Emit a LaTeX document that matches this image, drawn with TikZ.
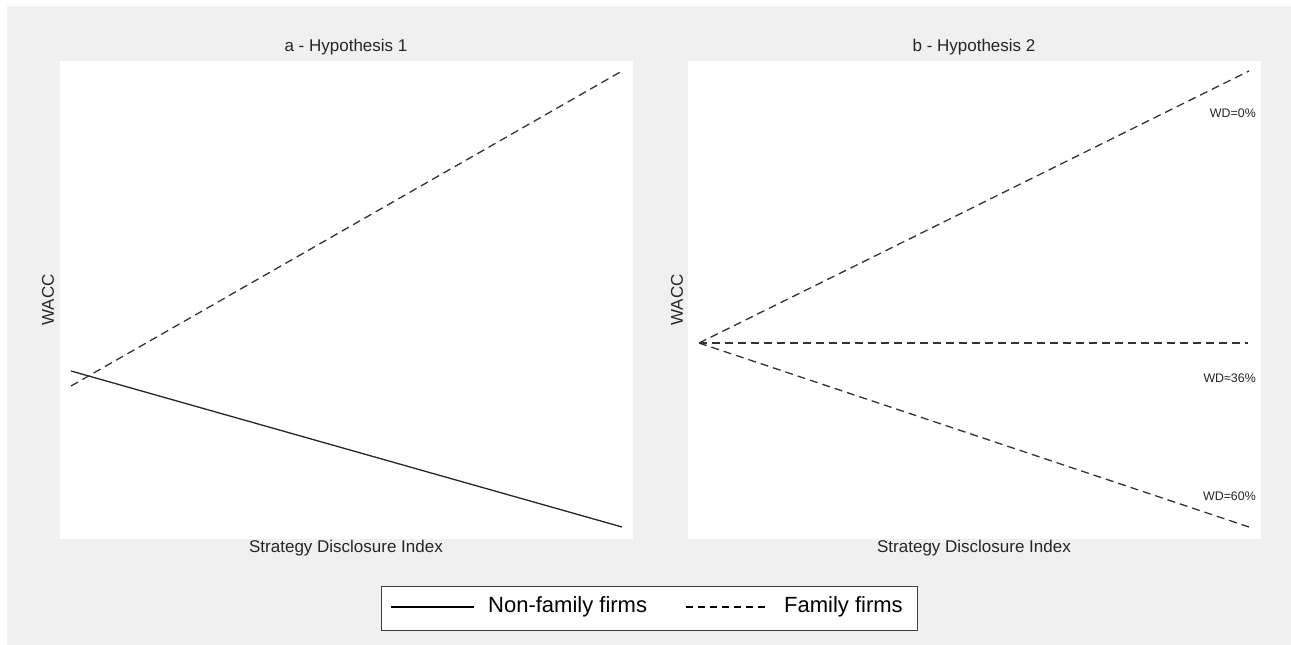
\documentclass[tikz,border=0pt]{standalone}
\usepackage{fontspec}
\setmainfont{Liberation Sans}
\begin{document}
\begin{tikzpicture}[x=1pt,y=-1pt,
  plotarea/.style={fill=white,draw=none},
  axlabel/.style={font=\fontsize{17}{19}\selectfont,text=black!85,inner sep=0pt},
  wdlabel/.style={font=\fontsize{12.4}{14}\selectfont,text=black!85,inner sep=0pt,anchor=east},
  solidline/.style={draw=black!85,line width=1.3pt},
  dashline/.style={draw=black!80,line width=1.3pt,dash pattern=on 8pt off 5pt},
  legtext/.style={font=\fontsize{22}{24}\selectfont,text=black,inner sep=0pt,anchor=west}]
\useasboundingbox (0,0) rectangle (1291,645);
\fill[white] (0,0) rectangle (1291,645);
\fill[black!6] (7,6) rectangle (1291,645);
% plot areas
\fill[plotarea] (60,61) rectangle (633,539);
\fill[plotarea] (688,61) rectangle (1261,539);
% titles
\node[axlabel] (ta) at (346,47) {a - Hypothesis 1};
\node[axlabel] (tb) at (974,47) {b - Hypothesis 2};
\node[axlabel] (xa) at (346,548) {Strategy Disclosure Index};
\node[axlabel] (xb) at (974,548) {Strategy Disclosure Index};
\node[axlabel,rotate=90] (ya) at (48,300) {WACC};
\node[axlabel,rotate=90] (yb) at (677,300) {WACC};
% panel a
\coordinate (a1) at (71,371);
\coordinate (a2) at (622,527);
\coordinate (a3) at (71,386);
\coordinate (a4) at (622,71);
\draw[solidline] (a1) -- (a2);
\draw[dashline] (a3) -- (a4);
% panel b
\coordinate (b0) at (699,343);
\coordinate (b1) at (1249,71);
\coordinate (b2) at (1248,343);
\coordinate (b3) at (1249,527);
\draw[dashline] (b0) -- (b1);
\draw[dashline] (b0) -- (b2);
\draw[dashline] (b0) -- (b3);
\node[wdlabel] (w0) at (1256,113) {WD=0\%};
\node[wdlabel] (w36) at (1256,378) {WD≈36\%};
\node[wdlabel] (w60) at (1256,496) {WD=60\%};
% legend
\node[draw=black!75,line width=1pt,fill=white,minimum width=536pt,minimum height=44pt,inner sep=0pt] (leg) at (649,608) {};
\coordinate (l1) at (391,607);
\coordinate (l2) at (474,607);
\coordinate (l3) at (686,607);
\coordinate (l4) at (768,607);
\draw[draw=black,line width=1.2pt] (l1) -- (l2);
\draw[draw=black,line width=1.2pt,dash pattern=on 7pt off 5pt] (l3) -- (l4);
\node[legtext] (n1) at (488,607) {Non-family firms};
\node[legtext] (n2) at (784,607) {Family firms};
\end{tikzpicture}
\end{document}
